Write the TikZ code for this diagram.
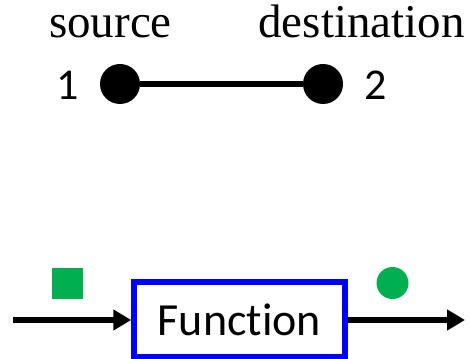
\documentclass[tikz,border=0pt]{standalone}
\usepackage{fontspec}
\setmainfont{Liberation Serif}
\newfontfamily\calib[Ligatures=NoCommon]{Carlito}
\usetikzlibrary{arrows.meta}
\definecolor{offgreen}{HTML}{00B050}
\begin{document}
\begin{tikzpicture}[x=1pt,y=1pt,
  dot/.style={circle,fill=black,minimum size=40pt,inner sep=0pt},
  lbl/.style={font=\calib\fontsize{44}{44}\selectfont,anchor=base,inner sep=0pt},
  ttl/.style={font=\fontsize{47}{47}\selectfont,anchor=base,inner sep=0pt},
  edge/.style={line width=5.5pt},
  flow/.style={line width=5.5pt,-{Triangle[length=18pt,width=20pt]}}]
\useasboundingbox (0,0) rectangle (469,359);
\node[ttl] (src) at (110.5,321) {source};
\node[ttl] (dst) at (361.5,321) {destination};
\node[dot] (n1) at (120,275) {};
\node[dot] (n2) at (323,275) {};
\node[lbl] (l1) at (67.5,259) {1};
\node[lbl] (l2) at (376,259) {2};
\draw[edge] (n1) -- (n2);
\node[draw=blue,line width=5.5pt,minimum width=211pt,minimum height=75pt,inner sep=0pt,
  font=\calib\fontsize{46}{46}\selectfont] (fn) at (239.5,39.5) {Function};
\coordinate (in) at (13,39);
\coordinate (out) at (465,39);
\draw[flow] (in) -- (in -| fn.west);
\draw[flow] (out -| fn.east) -- (out);
\node[fill=offgreen,minimum size=31pt,inner sep=0pt] (sq) at (67.5,75) {};
\node[circle,fill=offgreen,minimum size=32pt,inner sep=0pt] (ci) at (392.5,76) {};
\end{tikzpicture}
\end{document}
